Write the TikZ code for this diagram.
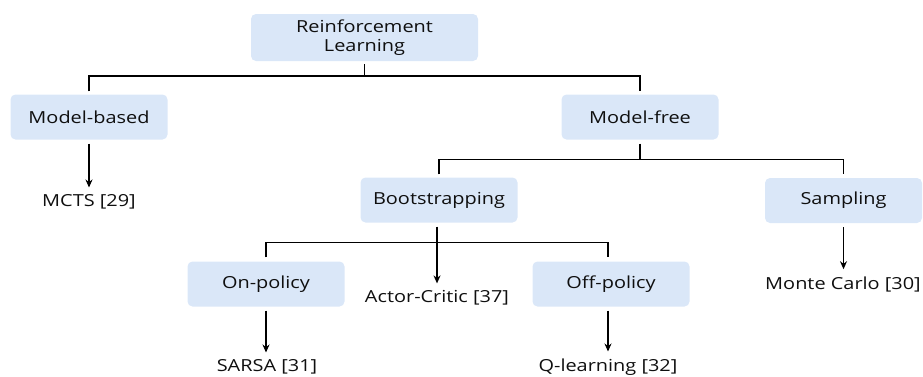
\documentclass[tikz,border=0pt]{standalone}
\usepackage{fontspec}
\setmainfont[FakeStretch=1.2]{Open Sans}
\usetikzlibrary{arrows.meta,calc}
\definecolor{boxfill}{HTML}{DAE7F8}
\definecolor{txt}{HTML}{0F0F0F}
\begin{document}
\begin{tikzpicture}[x=1pt,y=-1pt,
  box/.style={fill=boxfill, rounded corners=5pt, minimum width=157pt, minimum height=45pt,
    inner sep=0pt, text=txt, font=\fontsize{16.6}{19}\selectfont, align=center},
  leaf/.style={text=txt, font=\fontsize{16.6}{19}\selectfont, inner sep=0pt},
  conn/.style={line width=1.5pt, draw=black},
  arr/.style={conn, -{Stealth[length=8pt,width=7pt]}, shorten >=7pt}]
\useasboundingbox (0,0) rectangle (923,376);

% boxes
\node[box, minimum width=227pt, minimum height=47pt] (RL) at (364.5,37.5) {Reinforcement\\Learning};
\node[box] (MB) at (89,117) {Model-based};
\node[box] (MF) at (640,117) {Model-free};
\node[box] (Boot) at (439,200) {Bootstrapping};
\node[box] (Samp) at (843.5,200.5) {Sampling};
\node[box] (OnP) at (266,284) {On-policy};
\node[box] (OffP) at (611,284) {Off-policy};

% leaves
\node[leaf] (MCTS) at (89,202) {MCTS [29]};
\node[leaf] (MC) at (843,284) {Monte Carlo [30]};
\node[leaf] (AC) at (437,298) {Actor-Critic [37]};
\node[leaf] (SARSA) at (267,367) {SARSA [31]};
\node[leaf] (QL) at (608,367) {Q-learning [32]};

% junctions
\coordinate (j1) at ($(RL.south)+(0,15)$);
\coordinate (j2) at ($(MF.south)+(0,20)$);
\coordinate (j3) at ($(Boot.south)+(0,20)$);

% tree lines
\draw[conn] ([yshift=-3pt]RL.south) -- (j1);
\draw[conn] ([yshift=3pt]MB.north) |- (j1) -| ([yshift=3pt]MF.north);
\draw[conn] ([yshift=-4pt]MF.south) -- (j2);
\draw[conn] ([yshift=3pt]Boot.north) |- (j2) -| ([yshift=4pt]Samp.north);
\draw[conn] ([yshift=4pt]OnP.north) |- (j3) -| ([xshift=-3pt,yshift=4pt]OffP.north);

% arrows
\draw[arr] ([yshift=-4pt]MB.south) -- (MB.south |- MCTS.north);
\draw[arr] ([yshift=-4pt]Samp.south) -- (Samp.south |- MC.north);
\draw[arr] ([xshift=-2pt,yshift=-4pt]Boot.south) -- (AC.north);
\draw[arr] ([yshift=-4pt]OnP.south) -- (OnP.south |- SARSA.north);
\draw[arr] ([xshift=-3pt,yshift=-4pt]OffP.south) -- (QL.north);
\end{tikzpicture}
\end{document}
